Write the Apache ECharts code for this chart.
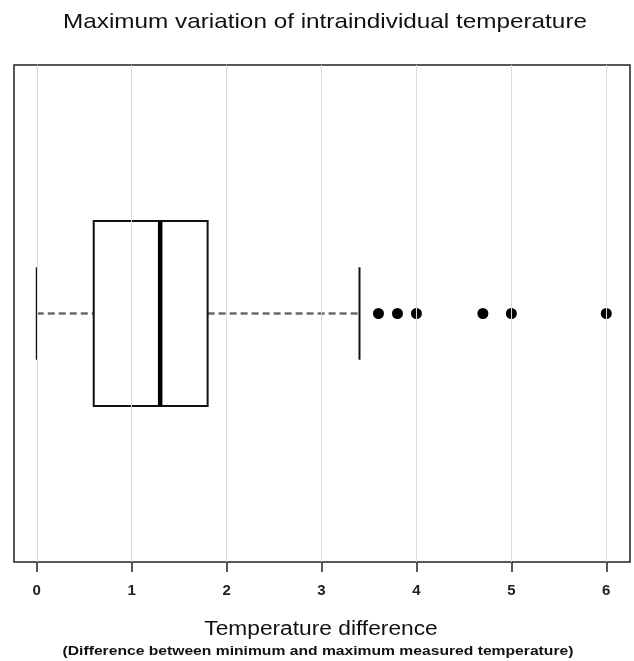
<!DOCTYPE html>
<html>
<head>
<meta charset="utf-8">
<script src="https://cdn.jsdelivr.net/npm/echarts@6/dist/echarts.min.js"></script>
<style>html,body{margin:0;padding:0;background:#fff}#c{width:634px;height:661px}</style>
</head>
<body>
<div id="c"></div>
<script>
// Data
const boxStats = [0, 0.6, 1.3, 1.8, 3.4]; // lower whisker, Q1, median, Q3, upper whisker
const outliers = [3.6, 3.8, 4.0, 4.7, 5.0, 6.0];
const tickValues = [0, 1, 2, 3, 4, 5, 6];
const titleText = 'Maximum variation of intraindividual temperature';
const axisTitle = 'Temperature difference';
const axisSubtitle = '(Difference between minimum and maximum measured temperature)';

const yCenter = 0.5;
const FONT = 'Liberation Sans, Arial, sans-serif';
const chart = echarts.init(document.getElementById('c'), null, {renderer: 'canvas'});

const option = {
  backgroundColor: '#fff',
  animation: false,
  graphic: [
    {type: 'text', x: 325, y: 22, scaleX: 1.157, silent: true,
     style: {text: titleText, x: 0, y: 0, align: 'center', verticalAlign: 'middle', font: 'normal 21px ' + FONT, fill: '#111'}},
    {type: 'text', x: 321, y: 630, scaleX: 1.166, silent: true,
     style: {text: axisTitle, x: 0, y: 0, align: 'center', verticalAlign: 'middle', font: 'normal 19.5px ' + FONT, fill: '#111'}},
    {type: 'text', x: 318, y: 651, scaleX: 1.16, silent: true,
     style: {text: axisSubtitle, x: 0, y: 0, align: 'center', verticalAlign: 'middle', font: 'bold 13.5px ' + FONT, fill: '#111'}}
  ],
  grid: {left: 14, right: 4, top: 65, bottom: 99, show: true, borderColor: '#222', borderWidth: 1.5, backgroundColor: 'transparent'},
  xAxis: {
    type: 'value', min: -0.24, max: 6.25,
    axisLine: {show: false},
    axisTick: {show: true, inside: false, length: 10, customValues: tickValues, lineStyle: {color: '#222', width: 1.5}},
    axisLabel: {show: true, customValues: tickValues, margin: 21, fontFamily: FONT, fontSize: 15, fontWeight: 'bold', color: '#222'},
    splitLine: {show: false}
  },
  yAxis: {type: 'value', min: 0, max: 1, show: false, splitLine: {show: false}},
  series: [
    {
      type: 'line', data: [], silent: true, z: 1,
      markLine: {
        silent: true, symbol: 'none', animation: false,
        label: {show: false},
        lineStyle: {color: '#d9d9d9', width: 1, type: 'solid'},
        data: tickValues.map(v => ({xAxis: v}))
      }
    },
    {
      type: 'custom', z: 3,
      encode: {x: [0, 1, 2, 3, 4], y: 5},
      data: [boxStats.concat([yCenter])],
      renderItem: function (params, api) {
        const yc = api.value(5);
        const c = v => api.coord([api.value(v), yc]);
        const boxHalf = api.size([0, 0.186])[1];
        const capHalf = api.size([0, 0.093])[1];
        const pMin = c(0), pQ1 = c(1), pMed = c(2), pQ3 = c(3), pMax = c(4);
        const y = pMin[1];
        const dash = {stroke: '#6a6a6a', lineWidth: 2.5, lineDash: [7, 4]};
        return {
          type: 'group',
          children: [
            {type: 'line', shape: {x1: pMin[0], y1: y, x2: pQ1[0], y2: y}, style: dash},
            {type: 'line', shape: {x1: pQ3[0], y1: y, x2: pMax[0], y2: y}, style: dash},
            {type: 'line', shape: {x1: pMin[0], y1: y - capHalf, x2: pMin[0], y2: y + capHalf}, style: {stroke: '#111', lineWidth: 2}},
            {type: 'line', shape: {x1: pMax[0], y1: y - capHalf, x2: pMax[0], y2: y + capHalf}, style: {stroke: '#111', lineWidth: 2}},
            {type: 'rect', shape: {x: pQ1[0], y: y - boxHalf, width: pQ3[0] - pQ1[0], height: 2 * boxHalf}, style: {fill: 'transparent', stroke: '#111', lineWidth: 2}},
            {type: 'line', shape: {x1: pMed[0], y1: y - boxHalf, x2: pMed[0], y2: y + boxHalf}, style: {stroke: '#000', lineWidth: 4.5}}
          ]
        };
      }
    },
    {
      type: 'scatter', z: 4,
      symbol: 'circle', symbolSize: 11,
      itemStyle: {color: '#000', opacity: 1},
      data: outliers.map(v => [v, yCenter])
    }
  ]
};
chart.setOption(option);
</script>
</body>
</html>
